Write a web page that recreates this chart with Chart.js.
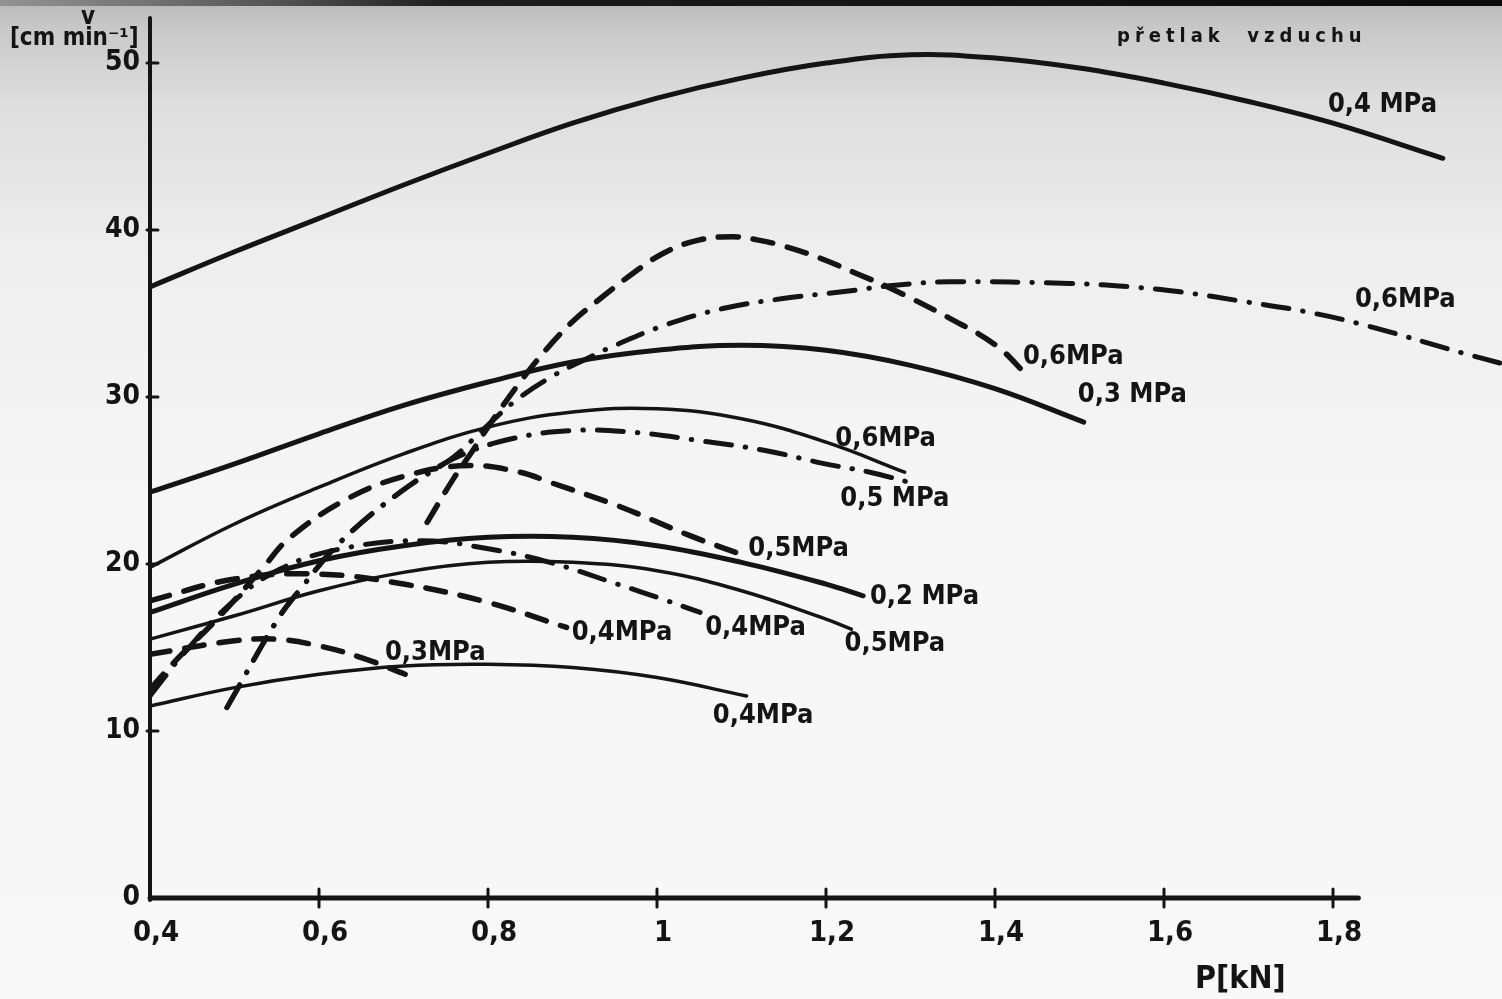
<!DOCTYPE html>
<html><head><meta charset="utf-8">
<script src="https://cdn.jsdelivr.net/npm/chart.js@4/dist/chart.umd.min.js"></script>
<style>html,body{margin:0;padding:0;background:#f7f7f7;}#wrap{width:1502px;height:999px;}</style>
</head><body><div id="wrap"><canvas id="c" width="1502" height="999"></canvas></div>
<script>
// ---- axis ticks ----
const xTickValues = [0.4, 0.6, 0.8, 1.0, 1.2, 1.4, 1.6, 1.8];
const xTickLabels = ['0,4', '0,6', '0,8', '1', '1,2', '1,4', '1,6', '1,8'];
const yTickValues = [0, 10, 20, 30, 40, 50];
const yTickLabels = ['0', '10', '20', '30', '40', '50'];
const xMin = 0.4, xMax = 2.0, xAxisEnd = 1.83, yMin = 0, yMax = 52.7;

// ---- solid, thick ----
const s04top_x = [0.4,0.5,0.6,0.7,0.8,0.9,1.0,1.1,1.2,1.3,1.4,1.5,1.6,1.7,1.8,1.93];
const s04top_y = [36.6,38.7,40.7,42.7,44.6,46.4,47.9,49.1,50.0,50.5,50.3,49.7,48.8,47.7,46.4,44.3];
const s03_x = [0.4,0.5,0.6,0.7,0.8,0.9,1.0,1.1,1.2,1.3,1.4,1.505];
const s03_y = [24.3,26.0,27.8,29.5,30.9,32.1,32.8,33.1,32.8,31.9,30.5,28.5];
const s02_x = [0.4,0.5,0.6,0.7,0.8,0.9,1.0,1.1,1.2,1.244];
const s02_y = [17.1,18.8,20.2,21.1,21.6,21.6,21.1,20.1,18.8,18.1];
// ---- solid, thin ----
const t06_x = [0.4,0.5,0.6,0.7,0.8,0.9,1.0,1.1,1.2,1.293];
const t06_y = [19.8,22.4,24.6,26.6,28.2,29.1,29.3,28.7,27.3,25.5];
const t05_x = [0.4,0.5,0.6,0.7,0.8,0.9,1.0,1.1,1.2,1.23];
const t05_y = [15.5,16.9,18.4,19.5,20.1,20.1,19.6,18.4,16.7,16.1];
const t04_x = [0.4,0.5,0.6,0.7,0.8,0.9,1.0,1.106];
const t04_y = [11.5,12.6,13.4,13.9,14.0,13.8,13.2,12.1];
// ---- dashed ----
const d03_x = [0.4,0.5,0.55,0.6,0.65,0.702];
const d03_y = [14.6,15.4,15.5,15.1,14.4,13.4];
const d04_x = [0.4,0.5,0.6,0.7,0.8,0.893];
const d04_y = [17.8,19.1,19.4,18.8,17.7,16.2];
const d05_x = [0.4,0.432,0.483,0.534,0.566,0.637,0.711,0.779,0.838,0.873,0.953,1.039,1.104];
const d05_y = [12.5,14.3,16.9,19.8,21.6,24.0,25.4,25.9,25.5,24.9,23.5,21.7,20.5];
const d06_x = [0.728,0.759,0.782,0.804,0.841,0.875,0.904,0.933,0.966,1.007,1.049,1.090,1.120,1.153,1.194,1.236,1.277,1.347,1.401,1.438];
const d06_y = [22.5,25.1,26.8,28.5,31.1,33.2,34.7,35.9,37.2,38.6,39.4,39.6,39.4,39.0,38.3,37.4,36.5,34.7,33.1,31.3];
// ---- dash-dot ----
const c04_x = [0.4,0.441,0.495,0.554,0.625,0.72,0.802,0.873,0.953,1.012,1.051];
const c04_y = [12.1,14.7,17.6,19.7,20.9,21.4,20.9,20.1,18.8,17.8,17.1];
const c05_x = [0.491,0.55,0.578,0.625,0.696,0.759,0.828,0.902,0.97,1.049,1.128,1.199,1.252,1.298];
const c05_y = [11.4,16.6,18.5,21.3,24.3,26.3,27.5,28.0,27.9,27.4,26.8,26.0,25.5,24.9];
const c06_x = [0.491,0.55,0.578,0.625,0.696,0.759,0.791,0.833,0.878,0.921,0.946,1.009,1.078,1.149,1.219,1.282,1.347,1.488,1.56,1.619,1.697,1.769,1.838,1.956,2.0];
const c06_y = [11.4,16.6,18.5,21.3,24.3,26.4,27.9,29.8,31.3,32.4,33.0,34.3,35.3,35.9,36.3,36.7,36.9,36.8,36.6,36.3,35.7,35.1,34.3,32.6,32.0];

// ---- curve labels (anchored in data units) ----
const curveLabelText = ['0,4 MPa','0,6MPa','0,6MPa','0,3 MPa','0,6MPa','0,5 MPa','0,5MPa','0,2 MPa','0,4MPa','0,4MPa','0,5MPa','0,3MPa','0,4MPa'];
const curveLabelX = [1.794,1.826,1.433,1.498,1.211,1.217,1.108,1.252,0.899,1.057,1.222,0.678,1.066];
const curveLabelY = [47.5,35.8,32.4,30.1,27.5,23.9,20.9,18.0,15.9,16.2,15.2,14.7,10.9];

const FONT = "'DejaVu Sans Condensed', 'DejaVu Sans', sans-serif";
const INK = '#141414';

const styles = {
  thick:   {borderWidth: 5,   borderDash: []},
  thin:    {borderWidth: 3.5, borderDash: []},
  dashed:  {borderWidth: 5.5, borderDash: [20, 15]},
  dashdot: {borderWidth: 5,   borderDash: [26, 14, 0.5, 14]}
};
function series(xs, ys, style) {
  return Object.assign({
    data: xs.map((x, i) => ({x: x, y: ys[i]})),
    borderColor: INK, backgroundColor: INK, pointRadius: 0, fill: false,
    tension: 0.4, borderCapStyle: 'round', borderJoinStyle: 'round'
  }, styles[style]);
}
const datasets = [
  series(s04top_x, s04top_y, 'thick'),
  series(s03_x, s03_y, 'thick'),
  series(s02_x, s02_y, 'thick'),
  series(t06_x, t06_y, 'thin'),
  series(t05_x, t05_y, 'thin'),
  series(t04_x, t04_y, 'thin'),
  series(d03_x, d03_y, 'dashed'),
  series(d04_x, d04_y, 'dashed'),
  series(d05_x, d05_y, 'dashed'),
  series(d06_x, d06_y, 'dashed'),
  series(c04_x, c04_y, 'dashdot'),
  series(c05_x, c05_y, 'dashdot'),
  series(c06_x, c06_y, 'dashdot')
];

const bgPlugin = {
  id: 'bg',
  beforeDraw(chart) {
    const {ctx, width, height} = chart;
    ctx.save();
    const g = ctx.createLinearGradient(0, 0, 0, height);
    g.addColorStop(0, '#b8b8b8');
    g.addColorStop(0.03, '#c9c9c9');
    g.addColorStop(0.1, '#dddddd');
    g.addColorStop(0.25, '#eeeeee');
    g.addColorStop(0.5, '#f6f6f6');
    g.addColorStop(1, '#f8f8f8');
    ctx.fillStyle = g;
    ctx.fillRect(0, 0, width, height);
    const h = ctx.createLinearGradient(0, 0, width, 0);
    h.addColorStop(0, 'rgba(120,120,120,0.6)');
    h.addColorStop(0.3, 'rgba(20,20,20,0.95)');
    h.addColorStop(1, 'rgba(10,10,10,1)');
    ctx.fillStyle = h;
    ctx.fillRect(0, 0, width, 6);
    ctx.restore();
  }
};

const axesPlugin = {
  id: 'axes',
  afterDraw(chart) {
    const {ctx} = chart;
    const xs = chart.scales.x, ys = chart.scales.y;
    const x0 = xs.getPixelForValue(xMin);
    const y0 = ys.getPixelForValue(0);
    const yTop = chart.chartArea.top;
    ctx.save();
    ctx.strokeStyle = INK;
    ctx.lineCap = 'round';
    ctx.lineWidth = 4;
    ctx.beginPath(); ctx.moveTo(x0, yTop); ctx.lineTo(x0, y0 + 2); ctx.stroke();
    ctx.lineWidth = 5;
    ctx.beginPath(); ctx.moveTo(x0, y0); ctx.lineTo(xs.getPixelForValue(xAxisEnd), y0); ctx.stroke();
    ctx.lineWidth = 3;
    yTickValues.forEach(v => {
      if (v === 0) return;
      const py = ys.getPixelForValue(v);
      ctx.beginPath(); ctx.moveTo(x0 - 3, py); ctx.lineTo(x0 + 8, py); ctx.stroke();
    });
    xTickValues.forEach(v => {
      if (v === xMin) return;
      const px = xs.getPixelForValue(v);
      ctx.beginPath(); ctx.moveTo(px, y0 - 9); ctx.lineTo(px, y0 + 9); ctx.stroke();
    });
    // curve labels
    ctx.fillStyle = INK;
    ctx.font = 'bold 27px ' + FONT;
    ctx.textBaseline = 'middle';
    ctx.textAlign = 'left';
    curveLabelText.forEach((t, i) => {
      ctx.fillText(t, xs.getPixelForValue(curveLabelX[i]), ys.getPixelForValue(curveLabelY[i]));
    });
    // axis titles
    ctx.font = 'bold 24px ' + FONT;
    ctx.textAlign = 'center';
    ctx.fillText('v', 88, 18);
    ctx.textAlign = 'left';
    ctx.fillText('[cm min\u207B\u00B9]', 10, 39);
    ctx.font = 'bold 32px ' + FONT;
    ctx.fillText('P[kN]', 1195, 980);
    ctx.font = 'bold 20px ' + FONT;
    try { ctx.letterSpacing = '5px'; } catch (e) {}
    ctx.fillText('p\u0159etlak  vzduchu', 1117, 37);
    ctx.restore();
  }
};

function killPad(s) {
  s.paddingTop = 0; s.paddingBottom = 0; s.paddingLeft = 0; s.paddingRight = 0;
}

new Chart(document.getElementById('c'), {
  type: 'line',
  data: {datasets: datasets},
  options: {
    responsive: false,
    animation: false,
    devicePixelRatio: 1,
    layout: {padding: {top: 18, left: 0, right: 0, bottom: 0}},
    plugins: {legend: {display: false}, tooltip: {enabled: false}},
    scales: {
      x: {
        type: 'linear', min: xMin, max: xMax,
        afterBuildTicks: s => { s.ticks = xTickValues.map(v => ({value: v})); },
        afterFit: s => { s.height = 101; killPad(s); },
        grid: {display: false, drawTicks: false},
        border: {display: false},
        ticks: {
          callback: v => xTickLabels[xTickValues.indexOf(v)],
          font: {family: FONT, size: 29, weight: 'bold'},
          color: INK, padding: 18, maxRotation: 0, autoSkip: false, labelOffset: 6
        }
      },
      y: {
        type: 'linear', min: yMin, max: yMax,
        afterBuildTicks: s => { s.ticks = yTickValues.map(v => ({value: v})); },
        afterFit: s => { s.width = 150; killPad(s); },
        grid: {display: false, drawTicks: false},
        border: {display: false},
        ticks: {
          callback: v => yTickLabels[yTickValues.indexOf(v)],
          font: {family: FONT, size: 28, weight: 'bold'},
          color: INK, padding: 10
        }
      }
    }
  },
  plugins: [bgPlugin, axesPlugin]
});
</script></body></html>
